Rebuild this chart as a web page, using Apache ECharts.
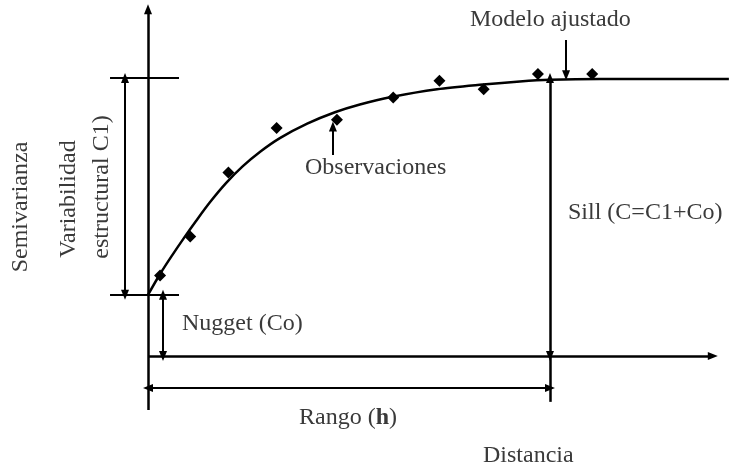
<!DOCTYPE html>
<html>
<head>
<meta charset="utf-8">
<script src="https://cdn.jsdelivr.net/npm/echarts@6/dist/echarts.min.js"></script>
<style>html,body{margin:0;padding:0;background:#fff}#c{width:729px;height:468px}</style>
</head>
<body>
<div id="c"></div>
<script>
// Observed semivariance (distance units, semivariance units; sill = 1)
var obsDistance = [0.3, 1.05, 2.0, 3.2, 4.7, 6.1, 7.25, 8.35, 9.7, 11.05];
var obsSemivar  = [0.29, 0.43, 0.66, 0.82, 0.85, 0.93, 0.99, 0.96, 1.015, 1.015];
// Fitted model curve
var modelDistance = [0, 0.3, 0.6, 0.9, 1.19, 1.54, 1.94, 2.36, 2.79, 3.28, 3.96, 4.65, 5.27, 6.05, 7.19, 8.33, 9.25, 10.0, 11.24, 14.45];
var modelSemivar  = [0.22, 0.295, 0.362, 0.426, 0.485, 0.553, 0.622, 0.683, 0.735, 0.784, 0.836, 0.877, 0.905, 0.932, 0.96, 0.977, 0.988, 0.994, 0.997, 0.997];
var nugget = 0.22;   // Co
var sill = 1.0;      // C = C1 + Co
var range = 10;      // h

var xMin = -3.682, xMax = 14.453, yMin = -0.403, yMax = 1.281;

var chart = echarts.init(document.getElementById('c'), null, {renderer: 'canvas'});
var black = '#000';
var txt = '#3a3a3a';
var font = '"Liberation Serif", "Times New Roman", serif';

function seg(p1, p2, s1, s2, w) {
  return [
    {coord: p1, symbol: s1 || 'none', symbolSize: [8, 10], lineStyle: {width: w || 2, color: black, type: 'solid'}},
    {coord: p2, symbol: s2 || 'none', symbolSize: [8, 10]}
  ];
}

var lines = [
  seg([0, -0.194], [0, 1.248], 'none', 'triangle', 2.5),          // y axis
  seg([0, 0], [14.05, 0], 'none', 'triangle', 2.5),                // x axis
  seg([-0.945, sill], [0.771, sill], 'none', 'none', 2),           // sill tick
  seg([-0.945, nugget], [0.771, nugget], 'none', 'none', 2),       // nugget tick
  seg([-0.572, nugget], [-0.572, sill], 'triangle', 'triangle', 2),// C1
  seg([0.373, 0], [0.373, nugget], 'triangle', 'triangle', 2),     // Co
  seg([0, -0.115], [range, -0.115], 'triangle', 'triangle', 2),    // range
  seg([range, 0], [range, sill], 'triangle', 'triangle', 2.5),     // sill vertical
  seg([range, -0.165], [range, 0], 'none', 'none', 2.5),
  seg([10.4, 1.137], [10.4, 1.01], 'none', 'triangle', 2),         // modelo arrow
  seg([4.6, 0.723], [4.6, 0.826], 'none', 'triangle', 2)           // observaciones arrow
];

var modelData = modelDistance.map(function (d, i) { return [d, modelSemivar[i]]; });
var obsData = obsDistance.map(function (d, i) { return [d, obsSemivar[i]]; });

chart.setOption({
  animation: false,
  backgroundColor: '#fff',
  grid: {left: 0, right: 0, top: 0, bottom: 0},
  xAxis: {type: 'value', min: xMin, max: xMax, show: false},
  yAxis: {type: 'value', min: yMin, max: yMax, show: false},
  series: [
    {
      type: 'line', data: modelData, smooth: 0.3, symbol: 'none', clip: false,
      lineStyle: {color: black, width: 2.5}, silent: true, z: 3,
      markLine: {silent: true, symbol: ['none', 'none'], label: {show: false},
        lineStyle: {type: 'solid', color: black}, data: lines, animation: false}
    },
    {
      type: 'scatter', data: obsData, symbol: 'diamond', symbolSize: [12, 12],
      itemStyle: {color: black, opacity: 1}, z: 4, silent: true
    }
  ],
  graphic: [
    {type: 'text', left: 470, top: 8, style: {text: 'Modelo ajustado', font: '24px ' + font, fill: txt}},
    {type: 'text', left: 305, top: 156, style: {text: 'Observaciones', font: '24px ' + font, fill: txt}},
    {type: 'text', left: 568, top: 201, style: {text: 'Sill (C=C1+Co)', font: '24px ' + font, fill: txt}},
    {type: 'text', left: 182, top: 312, style: {text: 'Nugget (Co)', font: '24px ' + font, fill: txt}},
    {type: 'text', left: 299, top: 406, style: {text: '{a|Rango (}{b|h}{a|)}', fill: txt, rich: {a: {font: '24px ' + font, fill: txt}, b: {font: 'bold 24px ' + font, fill: txt}}}},
    {type: 'text', left: 483, top: 444, style: {text: 'Distancia', font: '24px ' + font, fill: txt}},
    {type: 'text', x: 21, y: 207, rotation: Math.PI / 2, style: {text: 'Semivarianza', font: '24px ' + font, fill: txt, textAlign: 'center', textVerticalAlign: 'middle'}},
    {type: 'text', x: 69, y: 199, rotation: Math.PI / 2, style: {text: 'Variabilidad', font: '24px ' + font, fill: txt, textAlign: 'center', textVerticalAlign: 'middle'}},
    {type: 'text', x: 102, y: 187, rotation: Math.PI / 2, style: {text: 'estructural C1)', font: '24px ' + font, fill: txt, textAlign: 'center', textVerticalAlign: 'middle'}}
  ]
});
</script>
</body>
</html>
